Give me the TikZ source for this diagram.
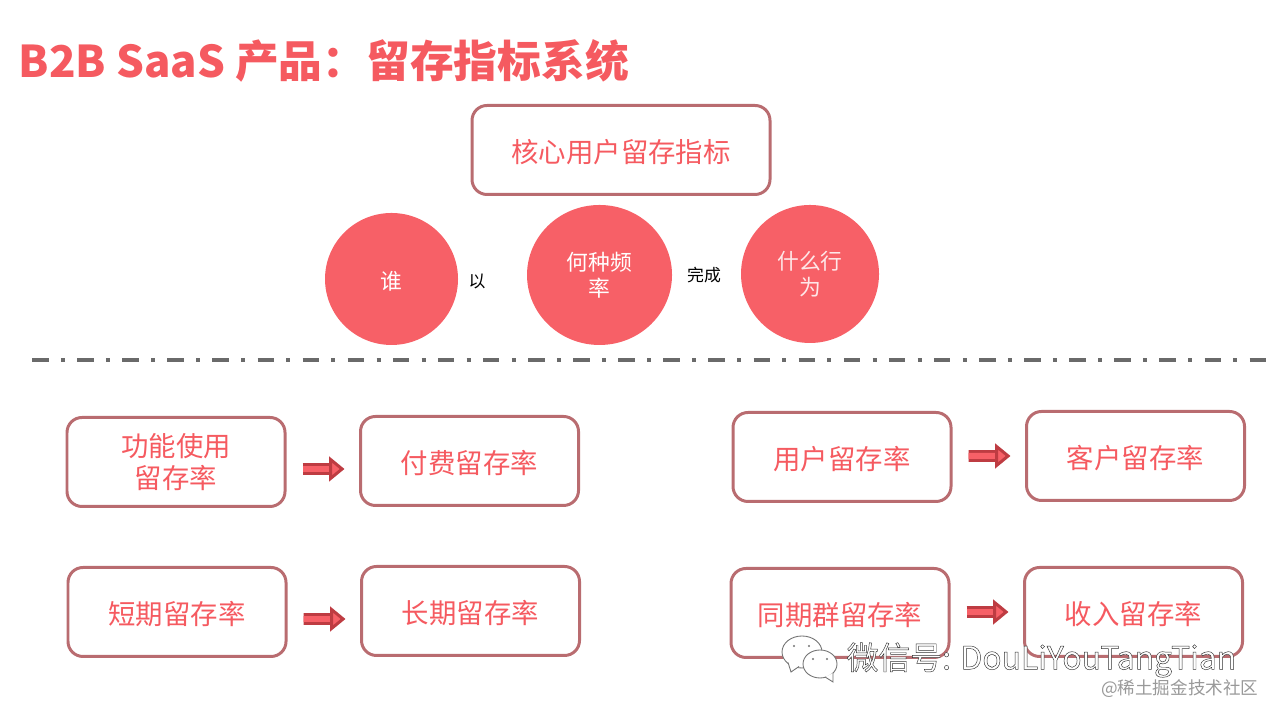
\documentclass[tikz,border=0pt]{standalone}
\usepackage{fontspec}
\setmainfont{Noto Sans CJK SC}
\usetikzlibrary{arrows.meta}
\usetikzlibrary{shapes.geometric}
\definecolor{titlered}{HTML}{F55A60}
\definecolor{boxedge}{HTML}{B96C70}
\definecolor{circlered}{HTML}{F76067}
\definecolor{arrowdark}{HTML}{BE3C42}
\definecolor{rulegray}{HTML}{6A6A6A}
\tikzset{
    metricbox/.style={draw=boxedge, line width=0.85pt, rounded corners=0.15cm, minimum width=2.18cm, minimum height=0.89cm, inner sep=0pt, align=center, text=titlered, font=\fontsize{7.8}{9.1}\selectfont, execute at begin node={\rule{0pt}{7.9pt}}},
    factor/.style={ellipse, fill=circlered, inner sep=0pt, align=center, text=white, font=\fontsize{6.2}{7.3}\selectfont, execute at begin node={\rule{0pt}{6.3pt}}},
    linkword/.style={inner sep=0pt, text=black, font=\fontsize{4.8}{6}\selectfont},
    bubble/.style={ellipse, draw=black!55, fill=white, line width=0.25pt, inner sep=0pt},
    blockarrow/.style={draw=arrowdark, line width=0.85pt, double=circlered, double distance=1.7pt, shorten <=0.16cm, shorten >=0.145cm, -{Triangle[length=4.4pt,width=7pt,fill=circlered]}}
}
\begin{document}
\begin{tikzpicture}
    \useasboundingbox (0,0) rectangle (12.8,7.2);

    \node[anchor=west, inner sep=0pt, text=titlered, font=\fontsize{12.45}{14}\bfseries\selectfont] (title) at (0.18,6.59) {B2B SaaS 产品：留存指标系统};

    \node[metricbox, minimum width=2.98cm] (core) at (6.21,5.70) {核心用户留存指标};

    \node[factor, minimum width=1.33cm, minimum height=1.32cm] (who) at (3.915,4.41) {谁};
    \node[factor, minimum width=1.45cm, minimum height=1.40cm] (freq) at (5.995,4.45) {何种频\\率};
    \node[factor, minimum width=1.38cm, minimum height=1.38cm, text=white!85!circlered] (what) at (8.10,4.46) {什么行\\为};
    \node[linkword] (yi) at (4.77,4.39) {以};
    \node[linkword] (wancheng) at (7.04,4.45) {完成};

    \coordinate (ruleleft) at (0.32,3.60);
    \coordinate (ruleright) at (12.67,3.60);
    \draw[rulegray, line width=1.15pt, dash pattern=on 0.165cm off 0.123cm on 0.04cm off 0.123cm] (ruleleft) -- (ruleright);

    \node[metricbox] (feature) at (1.76,2.58) {功能使用\\留存率};
    \node[metricbox] (paid) at (4.695,2.59) {付费留存率};
    \node[metricbox] (user) at (8.42,2.63) {用户留存率};
    \node[metricbox] (customer) at (11.355,2.64) {客户留存率};
    \node[metricbox] (short) at (1.77,1.08) {短期留存率};
    \node[metricbox] (long) at (4.705,1.09) {长期留存率};
    \node[metricbox] (cohort) at (8.40,1.07) {同期群留存率};
    \node[metricbox] (revenue) at (11.335,1.08) {收入留存率};

    \draw[blockarrow] ([yshift=-0.07cm]feature.east) -- ([yshift=-0.08cm]paid.west);
    \draw[blockarrow] ([yshift=0.01cm]user.east) -- ([yshift=0cm]customer.west);
    \draw[blockarrow] ([yshift=-0.07cm]short.east) -- ([yshift=-0.08cm]long.west);
    \draw[blockarrow] ([yshift=0.01cm]cohort.east) -- ([yshift=0cm]revenue.west);

    % watermark
    \node[bubble, minimum width=0.40cm, minimum height=0.32cm] (bubbleback) at (8.02,0.68) {};
    \draw[black!55, fill=white, line width=0.25pt] (7.88,0.575) -- (7.91,0.48) -- (7.99,0.535);
    \node[bubble, minimum width=0.34cm, minimum height=0.28cm] (bubblefront) at (8.20,0.56) {};
    \draw[black!55, fill=white, line width=0.25pt] (8.25,0.43) -- (8.33,0.38) -- (8.33,0.47);
    \foreach \dotx/\doty in {7.94/0.74, 8.09/0.74, 8.13/0.61, 8.27/0.61}
        \fill[black!55] (\dotx,\doty) circle (0.012);
    \node[anchor=west, inner sep=0pt, text=white, font=\fontsize{9.05}{11}\selectfont] (wechat) at (8.46,0.60) {\special{pdf:code 2 Tr 0.13 w 0.2 G}微信号: DouLiYouTangTian\special{pdf:code 0 Tr}};
    \node[anchor=east, inner sep=0pt, text=black!40, font=\fontsize{5}{6}\selectfont] (juejin) at (12.59,0.31) {@稀土掘金技术社区};
\end{tikzpicture}
\end{document}
